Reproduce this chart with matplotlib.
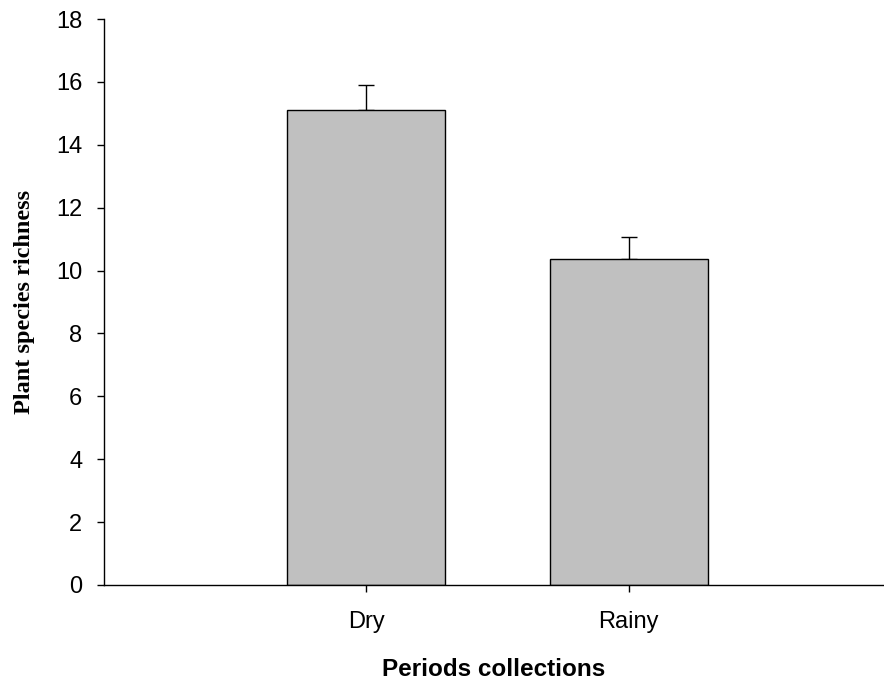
import matplotlib

matplotlib.use("Agg")

import matplotlib.pyplot as plt
import numpy as np

PERIODS = ["Dry", "Rainy"]
RICHNESS = [15.1, 10.38]
SE_UPPER = [0.8, 0.7]

BAR_GREY = "#c0c0c0"


def main() -> None:
    plt.rcParams.update({"font.family": ["Liberation Sans", "DejaVu Sans"]})

    fig = plt.figure(figsize=(8.84, 6.81), dpi=100)
    ax = fig.add_axes([0.1176, 0.141, 0.8814, 0.831])

    x = np.arange(len(PERIODS))
    yerr = [np.zeros(len(SE_UPPER)), SE_UPPER]
    ax.bar(x, RICHNESS, width=0.603, color=BAR_GREY, edgecolor="black", linewidth=1.0, zorder=2)
    ax.errorbar(x, RICHNESS, yerr=yerr, fmt="none", ecolor="black", elinewidth=1.0,
                capsize=5.8, capthick=1.0, zorder=1)

    ax.set_xlim(-1.0, 1.97)
    ax.set_ylim(0, 18)
    ax.set_yticks(np.arange(0, 19, 2))
    ax.set_xticks(x)
    ax.set_xticklabels(PERIODS)

    ax.spines["top"].set_visible(False)
    ax.spines["right"].set_visible(False)
    ax.spines["left"].set_linewidth(1.0)
    ax.spines["bottom"].set_linewidth(1.0)
    ax.tick_params(axis="both", direction="out", length=5, width=1.0, labelsize=17)
    ax.tick_params(axis="x", pad=14)
    ax.tick_params(axis="y", pad=10.5)

    ax.set_ylabel("Plant species richness", family=["Liberation Serif"], fontweight="bold",
                  fontsize=17.5, labelpad=15.5)
    ax.set_xlabel("Periods collections", fontweight="bold", fontsize=17.5, labelpad=17.5)

    fig.savefig("out.png", dpi=100, facecolor="white")
    plt.close(fig)


if __name__ == "__main__":
    main()
